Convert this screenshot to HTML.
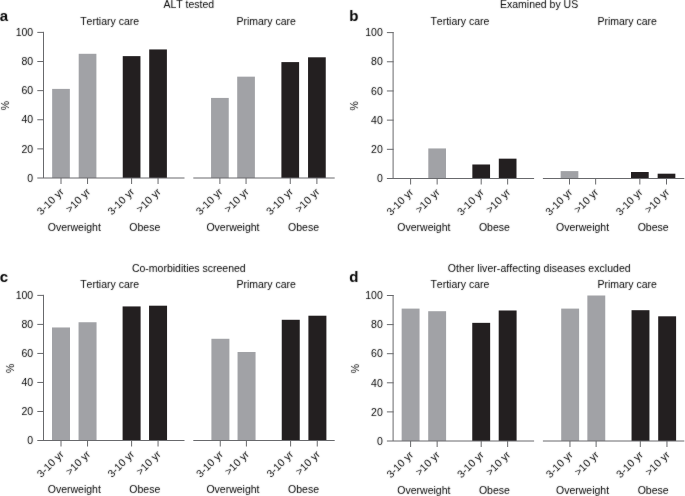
<!DOCTYPE html>
<html><head><meta charset="utf-8"><style>
html,body{margin:0;padding:0;background:#fff;}
body{width:685px;height:496px;overflow:hidden;}
svg{display:block;}
.tx{filter:url(#soft);font-kerning:none;font-family:"Liberation Sans",sans-serif;font-size:10.5px;fill:#000;}
.lt{font-size:15px;font-weight:bold;fill:#000;}
.ax{stroke:#68696c;stroke-width:1;fill:none;}
</style></head><body>
<svg width="685" height="496" viewBox="0 0 685 496">
<defs><filter id="soft" x="-5%" y="-5%" width="110%" height="110%"><feColorMatrix type="saturate" values="0"/><feConvolveMatrix order="3" kernelMatrix="0.5 1 0.5 1 14 1 0.5 1 0.5" divisor="20" edgeMode="none"/></filter></defs>
<rect width="685" height="496" fill="#fff"/>
<g class="bars">
<rect x="52.15" y="88.89" width="17.7" height="89.11" fill="#a1a2a6"/>
<rect x="78.7" y="53.8" width="17.7" height="124.2" fill="#a1a2a6"/>
<rect x="122.75" y="56.13" width="17.7" height="121.87" fill="#231f20"/>
<rect x="149.2" y="49.44" width="17.7" height="128.56" fill="#231f20"/>
<rect x="211.05" y="97.92" width="17.7" height="80.08" fill="#a1a2a6"/>
<rect x="237.2" y="76.66" width="17.7" height="101.34" fill="#a1a2a6"/>
<rect x="281.4" y="62.1" width="17.7" height="115.9" fill="#231f20"/>
<rect x="308.05" y="57.3" width="17.7" height="120.7" fill="#231f20"/>
<rect x="428.3" y="148.44" width="17.7" height="30.06" fill="#a1a2a6"/>
<rect x="472.35" y="164.49" width="17.7" height="14.01" fill="#231f20"/>
<rect x="498.8" y="158.66" width="17.7" height="19.84" fill="#231f20"/>
<rect x="560.65" y="171.1" width="17.7" height="7.4" fill="#a1a2a6"/>
<rect x="631" y="172.01" width="17.7" height="6.49" fill="#231f20"/>
<rect x="657.65" y="173.69" width="17.7" height="4.81" fill="#231f20"/>
<rect x="52" y="327.47" width="18" height="113.03" fill="#a1a2a6"/>
<rect x="78.55" y="322.24" width="18" height="118.26" fill="#a1a2a6"/>
<rect x="122.6" y="306.43" width="18" height="134.07" fill="#231f20"/>
<rect x="149.05" y="305.7" width="18" height="134.8" fill="#231f20"/>
<rect x="211.4" y="338.78" width="18" height="101.72" fill="#a1a2a6"/>
<rect x="237.55" y="351.99" width="18" height="88.51" fill="#a1a2a6"/>
<rect x="281.75" y="319.78" width="18" height="120.72" fill="#231f20"/>
<rect x="308.4" y="315.71" width="18" height="124.79" fill="#231f20"/>
<rect x="401.65" y="308.6" width="17.9" height="132.4" fill="#a1a2a6"/>
<rect x="428.2" y="311.21" width="17.9" height="129.79" fill="#a1a2a6"/>
<rect x="472.25" y="322.85" width="17.9" height="118.15" fill="#231f20"/>
<rect x="498.7" y="310.49" width="17.9" height="130.51" fill="#231f20"/>
<rect x="561.2" y="308.6" width="17.9" height="132.4" fill="#a1a2a6"/>
<rect x="587.35" y="295.5" width="17.9" height="145.5" fill="#a1a2a6"/>
<rect x="631.55" y="310.2" width="17.9" height="130.8" fill="#231f20"/>
<rect x="658.2" y="316.31" width="17.9" height="124.69" fill="#231f20"/>
</g>
<g class="ax">
<line x1="43.5" y1="31.9" x2="43.5" y2="178"/>
<line x1="37.3" y1="148.88" x2="44" y2="148.88"/>
<line x1="37.3" y1="119.76" x2="44" y2="119.76"/>
<line x1="37.3" y1="90.64" x2="44" y2="90.64"/>
<line x1="37.3" y1="61.52" x2="44" y2="61.52"/>
<line x1="37.3" y1="32.4" x2="44" y2="32.4"/>
<line x1="37.3" y1="178" x2="184.5" y2="178"/>
<line x1="61" y1="178" x2="61" y2="184"/>
<line x1="87.55" y1="178" x2="87.55" y2="184"/>
<line x1="131.6" y1="178" x2="131.6" y2="184"/>
<line x1="158.05" y1="178" x2="158.05" y2="184"/>
<line x1="193.3" y1="178" x2="334.7" y2="178"/>
<line x1="219.9" y1="178" x2="219.9" y2="184"/>
<line x1="246.05" y1="178" x2="246.05" y2="184"/>
<line x1="290.25" y1="178" x2="290.25" y2="184"/>
<line x1="316.9" y1="178" x2="316.9" y2="184"/>
<line x1="393.1" y1="32.1" x2="393.1" y2="178.5"/>
<line x1="386.9" y1="149.32" x2="393.6" y2="149.32"/>
<line x1="386.9" y1="120.14" x2="393.6" y2="120.14"/>
<line x1="386.9" y1="90.96" x2="393.6" y2="90.96"/>
<line x1="386.9" y1="61.78" x2="393.6" y2="61.78"/>
<line x1="386.9" y1="32.6" x2="393.6" y2="32.6"/>
<line x1="386.9" y1="178.5" x2="534.1" y2="178.5"/>
<line x1="410.6" y1="178.5" x2="410.6" y2="184.5"/>
<line x1="437.15" y1="178.5" x2="437.15" y2="184.5"/>
<line x1="481.2" y1="178.5" x2="481.2" y2="184.5"/>
<line x1="507.65" y1="178.5" x2="507.65" y2="184.5"/>
<line x1="542.9" y1="178.5" x2="684.3" y2="178.5"/>
<line x1="569.5" y1="178.5" x2="569.5" y2="184.5"/>
<line x1="595.65" y1="178.5" x2="595.65" y2="184.5"/>
<line x1="639.85" y1="178.5" x2="639.85" y2="184.5"/>
<line x1="666.5" y1="178.5" x2="666.5" y2="184.5"/>
<line x1="43.5" y1="294.9" x2="43.5" y2="440.5"/>
<line x1="37.3" y1="411.48" x2="44" y2="411.48"/>
<line x1="37.3" y1="382.46" x2="44" y2="382.46"/>
<line x1="37.3" y1="353.44" x2="44" y2="353.44"/>
<line x1="37.3" y1="324.42" x2="44" y2="324.42"/>
<line x1="37.3" y1="295.4" x2="44" y2="295.4"/>
<line x1="37.3" y1="440.5" x2="184.5" y2="440.5"/>
<line x1="61" y1="440.5" x2="61" y2="446.5"/>
<line x1="87.55" y1="440.5" x2="87.55" y2="446.5"/>
<line x1="131.6" y1="440.5" x2="131.6" y2="446.5"/>
<line x1="158.05" y1="440.5" x2="158.05" y2="446.5"/>
<line x1="193.3" y1="440.5" x2="334.7" y2="440.5"/>
<line x1="220.25" y1="440.5" x2="220.25" y2="446.5"/>
<line x1="246.4" y1="440.5" x2="246.4" y2="446.5"/>
<line x1="290.6" y1="440.5" x2="290.6" y2="446.5"/>
<line x1="317.25" y1="440.5" x2="317.25" y2="446.5"/>
<line x1="393.1" y1="295" x2="393.1" y2="441"/>
<line x1="386.9" y1="411.9" x2="393.6" y2="411.9"/>
<line x1="386.9" y1="382.8" x2="393.6" y2="382.8"/>
<line x1="386.9" y1="353.7" x2="393.6" y2="353.7"/>
<line x1="386.9" y1="324.6" x2="393.6" y2="324.6"/>
<line x1="386.9" y1="295.5" x2="393.6" y2="295.5"/>
<line x1="386.9" y1="441" x2="534.1" y2="441"/>
<line x1="410.6" y1="441" x2="410.6" y2="447"/>
<line x1="437.15" y1="441" x2="437.15" y2="447"/>
<line x1="481.2" y1="441" x2="481.2" y2="447"/>
<line x1="507.65" y1="441" x2="507.65" y2="447"/>
<line x1="542.9" y1="441" x2="684.3" y2="441"/>
<line x1="569.96" y1="441" x2="569.96" y2="447"/>
<line x1="596.11" y1="441" x2="596.11" y2="447"/>
<line x1="640.31" y1="441" x2="640.31" y2="447"/>
<line x1="666.96" y1="441" x2="666.96" y2="447"/>
</g>
<g class="tx">
<text x="-0.3" y="20.9" class="lt">a</text>
<text x="188.8" y="7.9" text-anchor="middle">ALT tested</text>
<text x="109.6" y="24.6" text-anchor="middle">Tertiary care</text>
<text x="266.2" y="24.6" text-anchor="middle">Primary care</text>
<text x="33.2" y="181.7" text-anchor="end">0</text>
<text x="33.2" y="152.58" text-anchor="end">20</text>
<text x="33.2" y="123.46" text-anchor="end">40</text>
<text x="33.2" y="94.34" text-anchor="end">60</text>
<text x="33.2" y="65.22" text-anchor="end">80</text>
<text x="33.2" y="36.1" text-anchor="end">100</text>
<text transform="translate(9,105.6) rotate(-90)" text-anchor="middle">%</text>
<text transform="translate(64.4,192.4) rotate(-45)" text-anchor="end">3-10 yr</text>
<text transform="translate(90.95,192.4) rotate(-45)" text-anchor="end">&gt;10 yr</text>
<text transform="translate(135,192.4) rotate(-45)" text-anchor="end">3-10 yr</text>
<text transform="translate(161.45,192.4) rotate(-45)" text-anchor="end">&gt;10 yr</text>
<text x="74.28" y="230.9" text-anchor="middle">Overweight</text>
<text x="144.82" y="230.9" text-anchor="middle">Obese</text>
<text transform="translate(223.3,192.4) rotate(-45)" text-anchor="end">3-10 yr</text>
<text transform="translate(249.45,192.4) rotate(-45)" text-anchor="end">&gt;10 yr</text>
<text transform="translate(293.65,192.4) rotate(-45)" text-anchor="end">3-10 yr</text>
<text transform="translate(320.3,192.4) rotate(-45)" text-anchor="end">&gt;10 yr</text>
<text x="232.98" y="230.9" text-anchor="middle">Overweight</text>
<text x="303.57" y="230.9" text-anchor="middle">Obese</text>
<text x="349.3" y="21.1" class="lt">b</text>
<text x="539.1" y="7.9" text-anchor="middle">Examined by US</text>
<text x="459.9" y="24.8" text-anchor="middle">Tertiary care</text>
<text x="627.2" y="24.8" text-anchor="middle">Primary care</text>
<text x="382.8" y="182.2" text-anchor="end">0</text>
<text x="382.8" y="153.02" text-anchor="end">20</text>
<text x="382.8" y="123.84" text-anchor="end">40</text>
<text x="382.8" y="94.66" text-anchor="end">60</text>
<text x="382.8" y="65.48" text-anchor="end">80</text>
<text x="382.8" y="36.3" text-anchor="end">100</text>
<text transform="translate(357.8,105.95) rotate(-90)" text-anchor="middle">%</text>
<text transform="translate(414,192.9) rotate(-45)" text-anchor="end">3-10 yr</text>
<text transform="translate(440.55,192.9) rotate(-45)" text-anchor="end">&gt;10 yr</text>
<text transform="translate(484.6,192.9) rotate(-45)" text-anchor="end">3-10 yr</text>
<text transform="translate(511.05,192.9) rotate(-45)" text-anchor="end">&gt;10 yr</text>
<text x="423.88" y="231.4" text-anchor="middle">Overweight</text>
<text x="494.43" y="231.4" text-anchor="middle">Obese</text>
<text transform="translate(572.9,192.9) rotate(-45)" text-anchor="end">3-10 yr</text>
<text transform="translate(599.05,192.9) rotate(-45)" text-anchor="end">&gt;10 yr</text>
<text transform="translate(643.25,192.9) rotate(-45)" text-anchor="end">3-10 yr</text>
<text transform="translate(669.9,192.9) rotate(-45)" text-anchor="end">&gt;10 yr</text>
<text x="582.58" y="231.4" text-anchor="middle">Overweight</text>
<text x="653.17" y="231.4" text-anchor="middle">Obese</text>
<text x="-0.3" y="281.8" class="lt">c</text>
<text x="188.8" y="271.8" text-anchor="middle">Co-morbidities screened</text>
<text x="109.6" y="287.6" text-anchor="middle">Tertiary care</text>
<text x="266.2" y="287.6" text-anchor="middle">Primary care</text>
<text x="33.2" y="444.2" text-anchor="end">0</text>
<text x="33.2" y="415.18" text-anchor="end">20</text>
<text x="33.2" y="386.16" text-anchor="end">40</text>
<text x="33.2" y="357.14" text-anchor="end">60</text>
<text x="33.2" y="328.12" text-anchor="end">80</text>
<text x="33.2" y="299.1" text-anchor="end">100</text>
<text transform="translate(14,368.35) rotate(-90)" text-anchor="middle">%</text>
<text transform="translate(64.4,454.9) rotate(-45)" text-anchor="end">3-10 yr</text>
<text transform="translate(90.95,454.9) rotate(-45)" text-anchor="end">&gt;10 yr</text>
<text transform="translate(135,454.9) rotate(-45)" text-anchor="end">3-10 yr</text>
<text transform="translate(161.45,454.9) rotate(-45)" text-anchor="end">&gt;10 yr</text>
<text x="74.28" y="493.4" text-anchor="middle">Overweight</text>
<text x="144.82" y="493.4" text-anchor="middle">Obese</text>
<text transform="translate(223.65,454.9) rotate(-45)" text-anchor="end">3-10 yr</text>
<text transform="translate(249.8,454.9) rotate(-45)" text-anchor="end">&gt;10 yr</text>
<text transform="translate(294,454.9) rotate(-45)" text-anchor="end">3-10 yr</text>
<text transform="translate(320.65,454.9) rotate(-45)" text-anchor="end">&gt;10 yr</text>
<text x="232.98" y="493.4" text-anchor="middle">Overweight</text>
<text x="303.57" y="493.4" text-anchor="middle">Obese</text>
<text x="349.3" y="282.3" class="lt">d</text>
<text x="539.3" y="271.9" text-anchor="middle" letter-spacing="0.05">Other liver-affecting diseases excluded</text>
<text x="459.9" y="287.7" text-anchor="middle">Tertiary care</text>
<text x="627.2" y="287.7" text-anchor="middle">Primary care</text>
<text x="382.8" y="444.7" text-anchor="end">0</text>
<text x="382.8" y="415.6" text-anchor="end">20</text>
<text x="382.8" y="386.5" text-anchor="end">40</text>
<text x="382.8" y="357.4" text-anchor="end">60</text>
<text x="382.8" y="328.3" text-anchor="end">80</text>
<text x="382.8" y="299.2" text-anchor="end">100</text>
<text transform="translate(358.6,368.65) rotate(-90)" text-anchor="middle">%</text>
<text transform="translate(414,455.4) rotate(-45)" text-anchor="end">3-10 yr</text>
<text transform="translate(440.55,455.4) rotate(-45)" text-anchor="end">&gt;10 yr</text>
<text transform="translate(484.6,455.4) rotate(-45)" text-anchor="end">3-10 yr</text>
<text transform="translate(511.05,455.4) rotate(-45)" text-anchor="end">&gt;10 yr</text>
<text x="423.88" y="493.9" text-anchor="middle">Overweight</text>
<text x="494.43" y="493.9" text-anchor="middle">Obese</text>
<text transform="translate(573.36,455.4) rotate(-45)" text-anchor="end">3-10 yr</text>
<text transform="translate(599.51,455.4) rotate(-45)" text-anchor="end">&gt;10 yr</text>
<text transform="translate(643.71,455.4) rotate(-45)" text-anchor="end">3-10 yr</text>
<text transform="translate(670.36,455.4) rotate(-45)" text-anchor="end">&gt;10 yr</text>
<text x="582.58" y="493.9" text-anchor="middle">Overweight</text>
<text x="653.17" y="493.9" text-anchor="middle">Obese</text>
</g>
</svg>
</body></html>
